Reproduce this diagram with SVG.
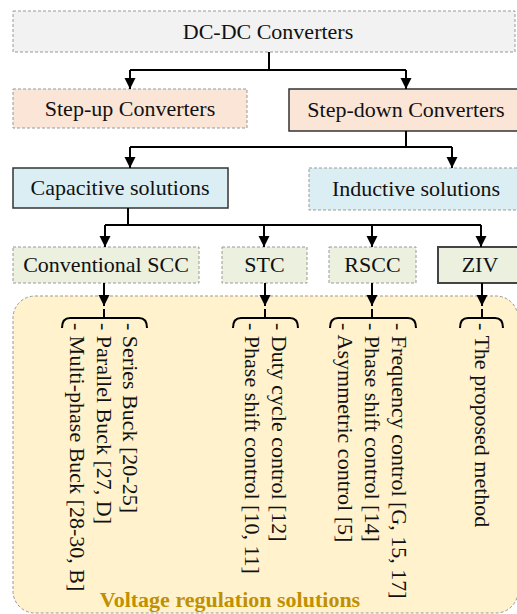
<svg xmlns="http://www.w3.org/2000/svg" width="517" height="614" viewBox="0 0 517 614">
<defs>
<style>
text{font-family:"Liberation Serif","Times New Roman",serif;font-size:22px;fill:#111}
.c{text-anchor:middle}
.dash{stroke:#999;stroke-width:1;stroke-dasharray:3 2}
.solid{stroke:#333;stroke-width:1.5}
.thick{stroke:#444;stroke-width:2}
.ln{stroke:#000;stroke-width:2;fill:none}
.arr{marker-end:url(#ah)}
.title{font-weight:bold;fill:#bf9000}
</style>
<marker id="ah" markerUnits="userSpaceOnUse" markerWidth="12" markerHeight="12" refX="11" refY="6" orient="auto" viewBox="0 0 12 12">
<path d="M0,0.5 L11,6 L0,11.5 z" fill="#000"/>
</marker>
</defs>

<g id="region">
<rect x="13" y="296" width="505" height="317" rx="22" fill="#fff2cc" class="dash"/>
<text class="title c" x="230" y="607">Voltage regulation solutions</text>
</g>

<g id="dcdc">
<rect x="13" y="11" width="502" height="41" fill="#f2f2f2" class="dash"/>
<text class="c" x="268" y="39">DC-DC Converters</text>
</g>
<g id="stepup">
<rect x="13" y="89" width="234" height="39" fill="#fbe5d6" class="dash"/>
<text class="c" x="130" y="116">Step-up Converters</text>
</g>
<g id="stepdown">
<rect x="289" y="89" width="240" height="42" fill="#fbe5d6" class="solid"/>
<text class="c" x="406" y="117">Step-down Converters</text>
</g>
<g id="capacitive">
<rect x="13" y="168" width="215" height="40" fill="#dbeef4" class="solid"/>
<text class="c" x="120" y="195">Capacitive solutions</text>
</g>
<g id="inductive">
<rect x="309" y="168" width="215" height="42" fill="#dbeef4" class="dash"/>
<text class="c" x="416" y="196">Inductive solutions</text>
</g>
<g id="convscc">
<rect x="13" y="247" width="186" height="36" fill="#ebf1de" class="dash"/>
<text class="c" x="106" y="272">Conventional SCC</text>
</g>
<g id="stc">
<rect x="222" y="247" width="85" height="36" fill="#ebf1de" class="dash"/>
<text class="c" x="264.5" y="272">STC</text>
</g>
<g id="rscc">
<rect x="329" y="247" width="87" height="36" fill="#ebf1de" class="dash"/>
<text class="c" x="372.5" y="272">RSCC</text>
</g>
<g id="ziv">
<rect x="438" y="247" width="86" height="36" fill="#ebf1de" class="thick"/>
<text class="c" x="480" y="272">ZIV</text>
</g>

<g id="connectors">
<path class="ln" d="M269,52 V70 M130,70 H406"/>
<path class="ln arr" d="M130,70 V89"/>
<path class="ln arr" d="M406,70 V89"/>
<path class="ln" d="M406,131 V147 M130,147 H452"/>
<path class="ln arr" d="M130,147 V168"/>
<path class="ln arr" d="M452,147 V168"/>
<path class="ln" d="M128,208 V225 M105,225 H481"/>
<path class="ln arr" d="M105,225 V247"/>
<path class="ln arr" d="M264,225 V247"/>
<path class="ln arr" d="M372,225 V247"/>
<path class="ln arr" d="M481,225 V247"/>
<path class="ln arr" d="M104,283 V306"/>
<path class="ln arr" d="M265,283 V306"/>
<path class="ln arr" d="M372,283 V306"/>
<path class="ln arr" d="M482,283 V306"/>
<path class="ln" d="M104,309 V318 M62,328 Q62,318 70,318 H139 Q147,318 147,328"/>
<path class="ln" d="M265,309 V318 M233,328 Q233,318 241,318 H290 Q298,318 298,328"/>
<path class="ln" d="M372,309 V318 M330,328 Q330,318 338,318 H408 Q416,318 416,328"/>
<path class="ln" d="M482,309 V318 M460,328 Q460,318 468,318 H495 Q503,318 503,328"/>
</g>

<g id="items">
<text transform="translate(70,323) rotate(90)">- Multi-phase Buck [28-30, B]</text>
<text transform="translate(97,323) rotate(90)">- Parallel Buck [27, D]</text>
<text transform="translate(123,323) rotate(90)">- Series Buck [20-25]</text>
<text transform="translate(245,323) rotate(90)">- Phase shift control [10, 11]</text>
<text transform="translate(272,323) rotate(90)">- Duty cycle control [12]</text>
<text transform="translate(338,323) rotate(90)">- Asymmetric control [5]</text>
<text transform="translate(365,323) rotate(90)">- Phase shift control [14]</text>
<text transform="translate(392,323) rotate(90)">- Frequency control [G, 15, 17]</text>
<text transform="translate(475,323) rotate(90)">- The proposed method</text>
</g>
</svg>
